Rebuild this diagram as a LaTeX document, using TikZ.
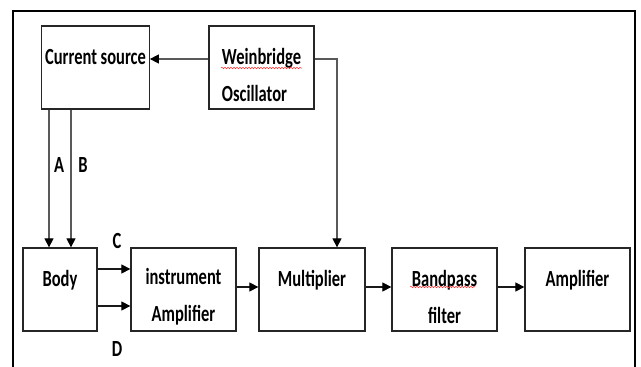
\documentclass[tikz,border=0pt]{standalone}
\usepackage{fontspec}
\usepackage{graphicx}
\setmainfont{Carlito}
\usetikzlibrary{arrows.meta,decorations.pathmorphing}

% narrow, tall lettering
\newcommand\tall[1]{\scalebox{1}[1.4]{#1}}
% first line of a block, pushed down a little
\newcommand\firstline[1]{\rule{0pt}{31pt}\tall{#1}}

\tikzset{
  block/.style={draw=black!85,line width=1.3pt,minimum width=105pt,minimum height=83pt,
    align=center,font=\fontsize{16.5}{37}\selectfont\bfseries},
  tag/.style={font=\fontsize{16.5}{18}\selectfont\bfseries},
  conn/.style={draw=black!65,line width=1.2pt},
  arr/.style={conn,-{Triangle[length=9pt,width=9pt,color=black]}},
  darr/.style={arr,draw=black!90},
  squiggle/.style={draw=red!80,line width=0.5pt,decorate,decoration={snake,amplitude=0.8pt,segment length=3pt}}
}

\begin{document}
\begin{tikzpicture}[x=1pt,y=-1pt]
\useasboundingbox (0,0) rectangle (641,367);
% frame, open at the bottom
\draw[line width=2pt] (13,367) |- (635,11) -- (635,367);

\node[block] (src) at (95.5,67.5) {\firstline{Current source}\\\mbox{}};
\node[block,align=left] (osc) at (261.5,67.5) {\firstline{Weinbridge}\\\tall{Oscillator}};
\node[block,minimum width=74pt] (body) at (60,289.5) {\firstline{Body}\\\mbox{}};
\node[block] (inamp) at (183.5,289.5) {\firstline{instrument}\\\tall{Amplifier}};
\node[block,minimum width=106pt] (mult) at (312,289.5) {\firstline{Multiplier}\\\mbox{}};
\node[block] (bpf) at (444.5,289.5) {\firstline{Bandpass}\\\tall{filter}};
\node[block] (amp) at (577.5,289.5) {\firstline{Amplifier}\\\mbox{}};

\node[tag] (labA) at (59,165) {\tall{A}};
\node[tag] (labB) at (83,165) {\tall{B}};
\node[tag] (labC) at (117,241) {\tall{C}};
\node[tag] (labD) at (117,349) {\tall{D}};

% spell-check marks
\draw[squiggle] (221,68) -- (302,68);
\draw[squiggle] (410,287) -- (475,287);

% oscillator feeds the source and the multiplier
\draw[arr] ([yshift=8.5pt]osc.west) -- ([yshift=8.5pt]src.east);
\draw[arr] ([yshift=8.5pt]osc.east) -| ([xshift=25pt]mult.north);

% electrodes A and B into the body
\coordinate (inA) at ([xshift=-11pt]body.north);
\coordinate (inB) at ([xshift=11pt]body.north);
\draw[arr] (inA |- src.south) -- (inA);
\draw[arr] (inB |- src.south) -- (inB);

% pick-up C and D
\draw[darr] ([yshift=20.5pt]body.east) -- ([yshift=20.5pt]inamp.west);
\draw[darr] ([yshift=-16.5pt]body.east) -- ([yshift=-16.5pt]inamp.west);

\draw[darr] ([yshift=2.5pt]inamp.east) -- ([yshift=2.5pt]mult.west);
\draw[darr] ([yshift=2.5pt]mult.east) -- ([yshift=2.5pt]bpf.west);
\draw[darr] ([yshift=2.5pt]bpf.east) -- ([yshift=2.5pt]amp.west);
\end{tikzpicture}
\end{document}
